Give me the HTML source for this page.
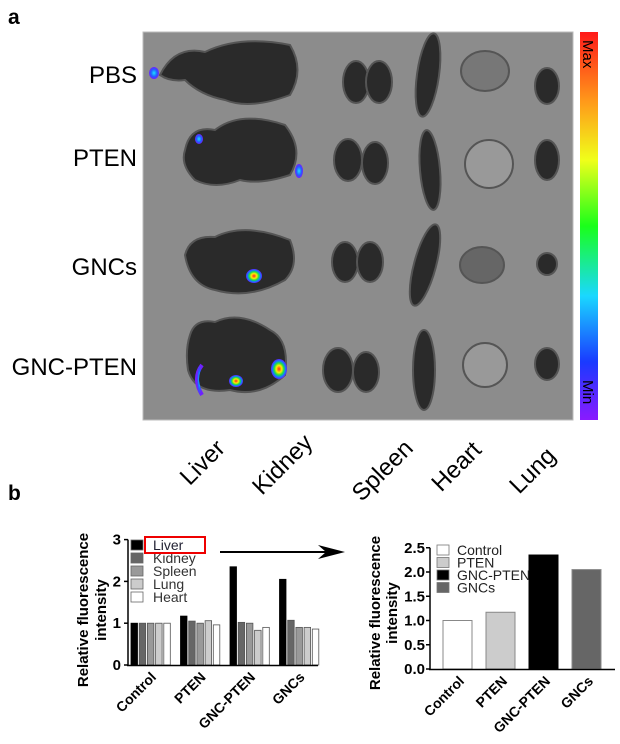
<!DOCTYPE html>
<html><head><meta charset="utf-8"><style>
body{margin:0;background:#fff;width:620px;height:744px;overflow:hidden;font-family:"Liberation Sans",sans-serif}
svg{position:absolute;left:0;top:0}
</style></head><body>
<svg id="fig" width="620" height="744" viewBox="0 0 620 744">
<defs>
<linearGradient id="cb" x1="0" y1="0" x2="0" y2="1">
<stop offset="0" stop-color="#ff1a1a"/><stop offset="0.18" stop-color="#ff9a1a"/><stop offset="0.33" stop-color="#f0ff1a"/><stop offset="0.5" stop-color="#1aff1a"/><stop offset="0.68" stop-color="#1ad8ff"/><stop offset="0.85" stop-color="#1a3aff"/><stop offset="1" stop-color="#8a1aff"/>
</linearGradient>
<radialGradient id="hot"><stop offset="0" stop-color="#ff2020"/><stop offset="0.35" stop-color="#ffee00"/><stop offset="0.6" stop-color="#20e040"/><stop offset="0.8" stop-color="#1080ff"/><stop offset="1" stop-color="#6020ff"/></radialGradient>
<radialGradient id="cool"><stop offset="0" stop-color="#20e0ff"/><stop offset="0.6" stop-color="#2060ff"/><stop offset="1" stop-color="#7020ff"/></radialGradient>
</defs>
<text x="8" y="24" font-size="21" font-weight="bold">a</text>
<g>
<rect x="143" y="32" width="430" height="388" fill="#8c8c8c" stroke="#bbb"/>
<g fill="#2a2a2a" stroke="#555" stroke-width="2">
<path d="M160 75 Q175 45 205 52 Q240 35 290 45 Q305 70 290 95 Q250 110 225 100 Q200 95 185 80 Q170 82 160 75Z"/>
<path d="M185 150 Q190 125 215 130 Q240 110 285 125 Q305 150 290 175 Q260 185 240 180 Q215 190 195 180 Q180 165 185 150Z"/>
<path d="M185 255 Q190 235 215 237 Q245 222 290 240 Q300 265 285 280 Q250 300 215 290 Q190 285 185 255Z"/>
<path d="M190 335 Q195 318 215 322 Q240 310 270 330 Q290 340 285 375 Q260 398 230 390 Q195 395 188 370 Q185 350 190 335Z"/>
<ellipse cx="356" cy="82" rx="13" ry="21"/><ellipse cx="379" cy="82" rx="13" ry="21"/>
<ellipse cx="348" cy="160" rx="14" ry="21"/><ellipse cx="375" cy="163" rx="13" ry="21"/>
<ellipse cx="345" cy="262" rx="13" ry="20"/><ellipse cx="370" cy="262" rx="13" ry="20"/>
<ellipse cx="338" cy="370" rx="15" ry="22"/><ellipse cx="366" cy="372" rx="13" ry="20"/>
<ellipse cx="428" cy="75" rx="11" ry="42" transform="rotate(8 428 75)"/>
<ellipse cx="430" cy="170" rx="10" ry="40" transform="rotate(-5 430 170)"/>
<ellipse cx="425" cy="265" rx="11" ry="42" transform="rotate(15 425 265)"/>
<ellipse cx="424" cy="370" rx="11" ry="40"/>
<ellipse cx="485" cy="71" rx="24" ry="20" fill="#777"/><ellipse cx="489" cy="164" rx="24" ry="24" fill="#999"/>
<ellipse cx="482" cy="265" rx="22" ry="18" fill="#666"/><ellipse cx="485" cy="365" rx="22" ry="22" fill="#999"/>
<ellipse cx="547" cy="86" rx="12" ry="18"/><ellipse cx="547" cy="160" rx="12" ry="20"/>
<ellipse cx="547" cy="264" rx="10" ry="11"/><ellipse cx="547" cy="364" rx="12" ry="16"/>
</g>
<ellipse cx="154" cy="73" rx="5" ry="6" fill="url(#cool)"/>
<ellipse cx="199" cy="139" rx="4" ry="5" fill="url(#cool)"/>
<ellipse cx="299" cy="171" rx="4" ry="7" fill="url(#cool)"/>
<ellipse cx="254" cy="276" rx="8" ry="7" fill="url(#hot)"/>
<ellipse cx="236" cy="381" rx="7" ry="6" fill="url(#hot)"/>
<ellipse cx="279" cy="369" rx="8" ry="10" fill="url(#hot)"/>
<path d="M202 365 Q192 378 202 395" stroke="url(#cool)" stroke-width="4" fill="none"/>
</g>
<rect x="580" y="32" width="18" height="388" fill="url(#cb)"/>
<text transform="translate(583 40) rotate(90)" font-size="15">Max</text>
<text transform="translate(583 380) rotate(90)" font-size="15">Min</text>
<g font-size="24" text-anchor="end" font-family="Liberation Sans,sans-serif">
<text x="137" y="83">PBS</text>
<text x="137" y="166">PTEN</text>
<text x="137" y="275">GNCs</text>
<text x="137" y="375">GNC-PTEN</text>
</g>
<g font-size="24" text-anchor="middle">
<text transform="translate(208 468) rotate(-45)">Liver</text>
<text transform="translate(288 470) rotate(-45)">Kidney</text>
<text transform="translate(388 476) rotate(-45)">Spleen</text>
<text transform="translate(462 472) rotate(-45)">Heart</text>
<text transform="translate(538 476) rotate(-45)">Lung</text>
</g>
<text x="8" y="500" font-size="21" font-weight="bold">b</text>
<g id="left"></g>
<g id="right"></g>
<line x1="220" y1="552" x2="335" y2="552" stroke="#000" stroke-width="2"/>
<path d="M345 552 L318 545 L326 552 L318 559Z" fill="#000"/>
</svg>
<script>
const NS="http://www.w3.org/2000/svg";
const groups=["Control","PTEN","GNC-PTEN","GNCs"];
const organs=["Liver","Kidney","Spleen","Lung","Heart"];
const liverVals=[1.0,1.17,2.35,2.05];
const kidneyVals=[1.0,1.05,1.02,1.07];
const spleenVals=[1.0,1.0,1.0,0.9];
const lungVals=[1.0,1.06,0.83,0.9];
const heartVals=[1.0,0.96,0.9,0.86];
const leftTicks=[0,1,2,3];
const rightVals=[1.0,1.17,2.35,2.05];
const rightTicks=["0.0","0.5","1.0","1.5","2.0","2.5"];
const organFills=["#000","#666","#999","#ccc","#fff"];
const rightFills=["#fff","#ccc","#000","#666"];
function mk(p,tag,a,txt){const e=document.createElementNS(NS,tag);for(const k in a)e.setAttribute(k,a[k]);if(txt!=null)e.textContent=txt;p.appendChild(e);return e;}
// left chart
const L=document.getElementById('left');
const ly=v=>665-v*41.8;
const series=[liverVals,kidneyVals,spleenVals,lungVals,heartVals];
groups.forEach((g,gi)=>{
 const gx=131+gi*49.5;
 series.forEach((s,si)=>{
  const r=mk(L,'rect',{x:gx+si*8.2,y:ly(s[gi]),width:6.5,height:665-ly(s[gi]),fill:organFills[si],stroke:si==0?'#000':'#555','stroke-width':0.8});
  
  
 });
 const t=mk(L,'text',{transform:`translate(${gx+26} 678) rotate(-45)`,'text-anchor':'end','font-size':14,'font-weight':'bold'},g);
 
 
});
mk(L,'line',{x1:128,y1:ly(3),x2:128,y2:666,stroke:'#000','stroke-width':1.5});
mk(L,'line',{x1:127,y1:665.5,x2:318,y2:665.5,stroke:'#000','stroke-width':1.5});
leftTicks.forEach(v=>{
 mk(L,'line',{x1:124,y1:ly(v),x2:128,y2:ly(v),stroke:'#000','stroke-width':1.5});
 const t=mk(L,'text',{x:121,y:ly(v)+5,'text-anchor':'end','font-size':15,'font-weight':'bold'},v);
 
 
});
organs.forEach((o,i)=>{
 const y=545+i*13;
 mk(L,'rect',{x:131,y:y-5,width:12,height:10,fill:organFills[i],stroke:'#666','stroke-width':0.8});
 const t=mk(L,'text',{x:153,y:y+5,'font-size':14,fill:i==0?'#223':'#333'},o);
 
 
});
mk(L,'rect',{x:145,y:537,width:60,height:16,fill:'none',stroke:'#e00','stroke-width':2});
const ly1=mk(L,'text',{transform:'translate(88 610) rotate(-90)','text-anchor':'middle','font-size':15,'font-weight':'bold'},'Relative fluorescence');

mk(L,'text',{transform:'translate(106 610) rotate(-90)','text-anchor':'middle','font-size':15,'font-weight':'bold'},'intensity');
// right chart
const R=document.getElementById('right');
const ry=v=>669-v*48.5;
groups.forEach((g,i)=>{
 const x=443+i*43;
 const r=mk(R,'rect',{x:x,y:ry(rightVals[i]),width:29,height:669-ry(rightVals[i]),fill:rightFills[i],stroke:i==2?'#000':'#888','stroke-width':1});
 
 
 const t=mk(R,'text',{transform:`translate(${x+22} 682) rotate(-45)`,'text-anchor':'end','font-size':14,'font-weight':'bold'},g);
 
 
 mk(R,'rect',{x:437,y:545+i*12.5,width:12,height:10,fill:rightFills[i],stroke:'#777','stroke-width':0.8});
 const lt=mk(R,'text',{x:457,y:555+i*12.5,'font-size':14,fill:'#222'},g);
 
 
});
mk(R,'line',{x1:430,y1:ry(2.5),x2:430,y2:670,stroke:'#000','stroke-width':1.5});
mk(R,'line',{x1:429,y1:669.5,x2:615,y2:669.5,stroke:'#000','stroke-width':1.5});
rightTicks.forEach(s=>{
 const v=parseFloat(s);
 mk(R,'line',{x1:426,y1:ry(v),x2:430,y2:ry(v),stroke:'#000','stroke-width':1.5});
 const t=mk(R,'text',{x:425,y:ry(v)+5,'text-anchor':'end','font-size':15,'font-weight':'bold'},s);
 
 
});
mk(R,'text',{transform:'translate(380 613) rotate(-90)','text-anchor':'middle','font-size':15,'font-weight':'bold'},'Relative fluorescence');
mk(R,'text',{transform:'translate(397 613) rotate(-90)','text-anchor':'middle','font-size':15,'font-weight':'bold'},'intensity');
</script>
</body></html>
